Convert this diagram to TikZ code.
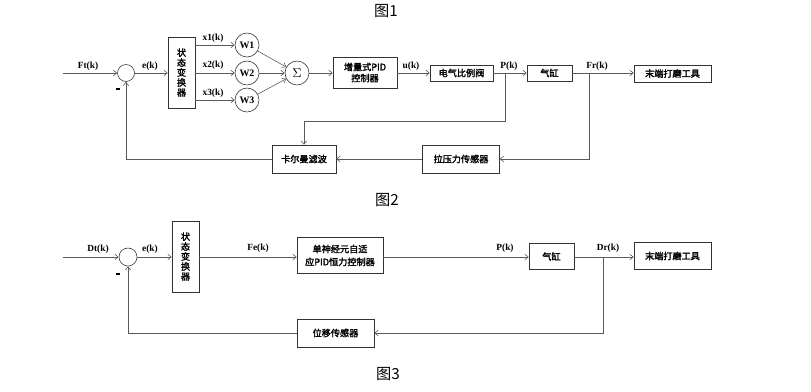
\documentclass[tikz,border=0pt]{standalone}
\usepackage{fontspec}
\setmainfont{Liberation Serif}
\newfontfamily\cjk{Noto Sans CJK SC}[FakeBold=2]
\newfontfamily\cjktitle{Noto Sans CJK SC}
\usetikzlibrary{arrows.meta,calc}
\definecolor{ink}{HTML}{333333}
\definecolor{wirec}{HTML}{5A5A5A}
\tikzset{
  box/.style={draw=ink,line width=0.5pt,inner sep=0pt,align=center,font=\cjk\fontsize{7.8}{9.5}\selectfont},
  ring/.style={draw=ink,line width=0.5pt,circle,inner sep=0pt,font=\bfseries\fontsize{8.5}{9}\selectfont},
  flow/.style={-{Straight Barb[length=1mm,width=1.6mm]},draw=wirec,line width=0.5pt},
  lbl/.style={font=\bfseries\fontsize{8}{9}\selectfont,inner sep=0pt},
  minus/.style={inner sep=0pt},
  caption/.style={font=\cjktitle\fontsize{13}{15}\selectfont,inner sep=0pt}}

\begin{document}
\begin{tikzpicture}[x=0.03cm,y=-0.03cm]
  \useasboundingbox (0,0) rectangle (811,392);
  % captions
  \node[caption] (t1) at (386,11)  {图1};
  \node[caption] (t2) at (387,200) {图2};
  \node[caption] (t3) at (388,374) {图3};

  % upper loop
  \coordinate (in1) at (63,73);
  \node[ring,minimum size=5.1mm] (sum1) at (126,73) {};
  \node[box,minimum width=8.1mm,minimum height=21.3mm,font=\cjk\fontsize{7.8}{8.5}\selectfont] (st1) at (181.5,72.5) {状\\态\\变\\换\\器};
  \node[ring,minimum size=7.2mm] (w1) at (247,45)  {W1};
  \node[ring,minimum size=7.2mm] (w2) at (247,73)  {W2};
  \node[ring,minimum size=7.2mm] (w3) at (247,100) {W3};
  \node[ring,minimum size=7.2mm,font=\fontsize{11}{12}\selectfont] (sg) at (297,73) {$\Sigma$};
  \node[box,minimum width=19.2mm,minimum height=9.3mm] (pid) at (365,72.5) {增量式PID\\控制器};
  \node[box,minimum width=18.9mm,minimum height=4.8mm] (valve) at (461.5,73) {电气比例阀};
  \node[box,minimum width=13.5mm,minimum height=4.8mm] (cyl1) at (549.5,73) {气缸};
  \node[box,minimum width=23.1mm,minimum height=5.1mm] (tool1) at (672.5,73.5) {末端打磨工具};
  \node[box,minimum width=19.2mm,minimum height=8.4mm] (kal) at (304,159) {卡尔曼滤波};
  \node[box,minimum width=23.1mm,minimum height=8.4mm] (lps) at (461,159) {拉压力传感器};
  \coordinate (bp1) at (505,73);
  \coordinate (bc1) at (505,121);
  \coordinate (bf1) at (589,73);

  \node[lbl] (ft) at (88,66)  {Ft(k)};
  \node[lbl] (e1) at (150,66) {e(k)};
  \node[lbl] (x1) at (213,38) {x1(k)};
  \node[lbl] (x2) at (213,65) {x2(k)};
  \node[lbl] (x3) at (213,93) {x3(k)};
  \node[lbl] (uk) at (411,66) {u(k)};
  \node[lbl] (p1) at (509,66) {P(k)};
  \node[lbl] (fr) at (597,66) {Fr(k)};
  \node[minus] (m1) at (118,89) {\rule{1.4mm}{0.45mm}};

  \draw[flow] (in1) -- (sum1.west);
  \draw[flow] (sum1.east) -- (st1.west|-sum1);
  \foreach \w in {w1,w2,w3}{\draw[flow] (st1.east|-\w) -- (\w.west);}
  \foreach \w in {w1,w2,w3}{\draw[flow] (\w) -- (sg);}
  \draw[flow] (sg.east) -- (pid.west|-sg);
  \draw[flow] (pid.east|-valve) -- (valve.west);
  \draw[flow] (valve.east) -- (cyl1.west);
  \draw[flow] (cyl1.east) -- (tool1.west|-cyl1);
  \draw[flow] (bp1) -- (bc1) -| (kal.north);
  \draw[flow] (bf1) |- (lps.east);
  \draw[flow] (lps.west) -- (kal.east);
  \draw[flow] (kal.west) -| (sum1.south);

  % lower loop
  \coordinate (in3) at (63,257);
  \node[ring,minimum size=5.4mm] (sum3) at (128,257) {};
  \node[box,minimum width=8.1mm,minimum height=21.3mm,font=\cjk\fontsize{7.8}{8.5}\selectfont] (st3) at (185.5,256.5) {状\\态\\变\\换\\器};
  \node[box,minimum width=25.8mm,minimum height=10.8mm,font=\cjk\fontsize{7.8}{11}\selectfont] (ctl) at (340,255.5) {单神经元自适\\应PID恒力控制器};
  \node[box,minimum width=13.5mm,minimum height=7.8mm] (cyl3) at (551.5,256.5) {气缸};
  \node[box,minimum width=23.1mm,minimum height=8.1mm] (tool3) at (672.5,256) {末端打磨工具};
  \node[box,minimum width=23.1mm,minimum height=8.4mm] (pos) at (335.5,333) {位移传感器};
  \coordinate (bd3) at (603,257);

  \node[lbl] (dt) at (98,249)  {Dt(k)};
  \node[lbl] (e3) at (150,249) {e(k)};
  \node[lbl] (fe) at (258,248) {Fe(k)};
  \node[lbl] (p3) at (505,248) {P(k)};
  \node[lbl] (dr) at (608,248) {Dr(k)};
  \node[minus] (m3) at (118,274) {\rule{1.4mm}{0.45mm}};

  \draw[flow] (in3) -- (sum3.west);
  \draw[flow] (sum3.east) -- (st3.west|-sum3);
  \draw[flow] (st3.east|-sum3) -- (ctl.west|-sum3);
  \draw[flow] (ctl.east|-sum3) -- (cyl3.west|-sum3);
  \draw[flow] (cyl3.east|-sum3) -- (tool3.west|-sum3);
  \draw[flow] (bd3) |- (pos.east);
  \draw[flow] (pos.west) -| (sum3.south);
\end{tikzpicture}
\end{document}
